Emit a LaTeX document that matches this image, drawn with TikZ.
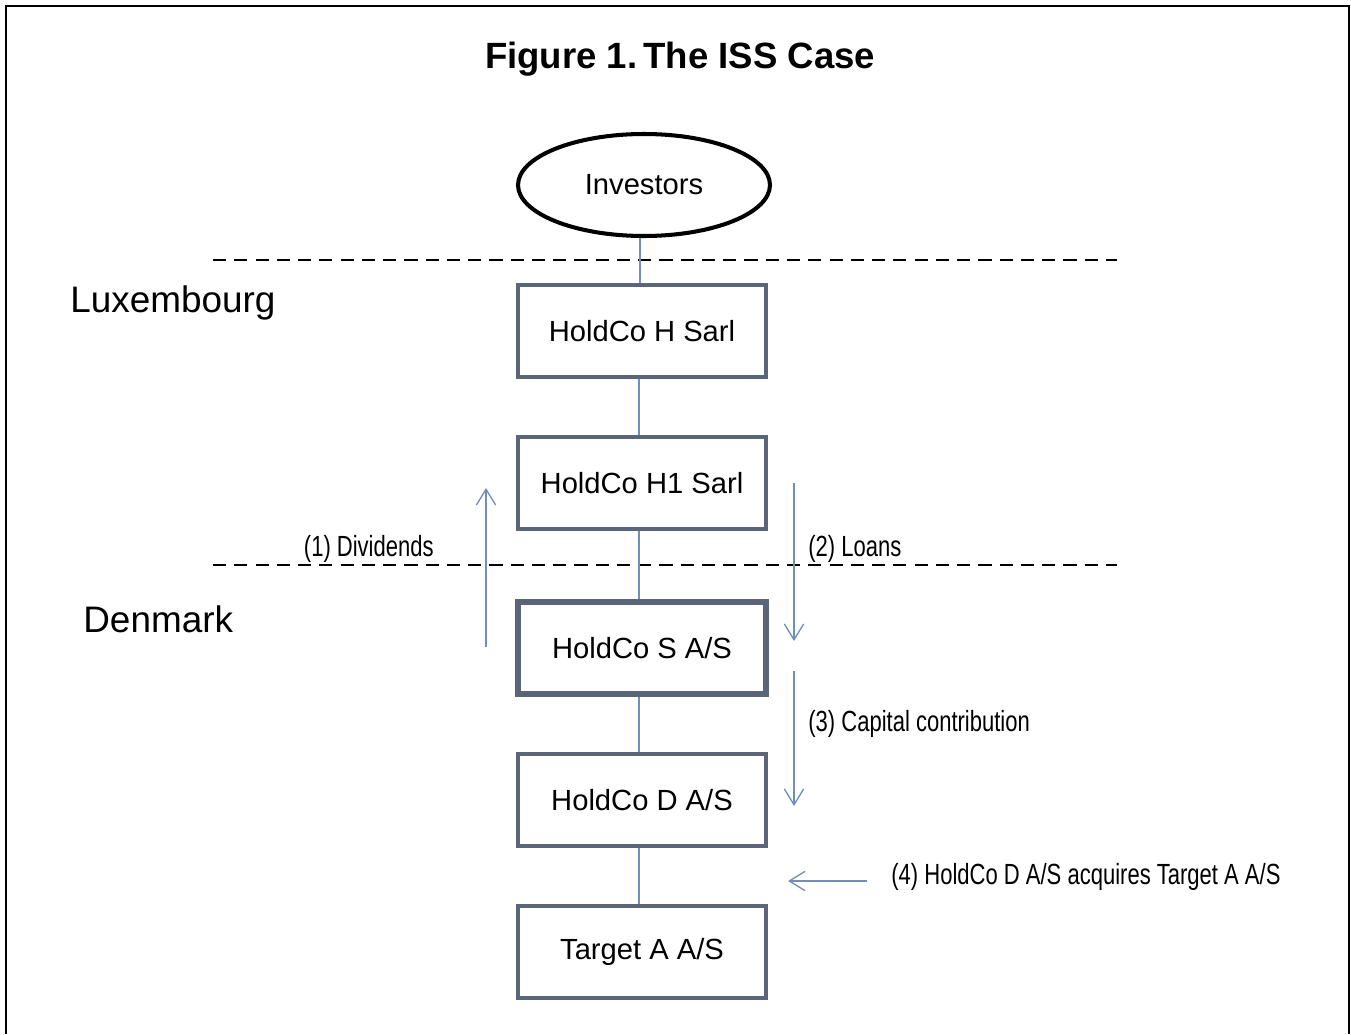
\documentclass[tikz,border=0pt]{standalone}
\usepackage{fontspec}
\setmainfont{Liberation Sans}
\newfontfamily\condfont[FakeStretch=0.755]{Liberation Sans}
\usetikzlibrary{shapes.geometric,arrows.meta}
\definecolor{boxline}{HTML}{5A6579}
\definecolor{flowblue}{HTML}{6F8FBA}
\tikzset{
  entity/.style={draw=boxline,line width=2.3pt,rectangle,inner sep=0pt,
    minimum width=4.96cm,minimum height=1.84cm,font=\fontsize{16.6}{20}\selectfont},
  owner/.style={draw=flowblue,line width=0.75pt},
  flow/.style={draw=flowblue,line width=0.75pt,-{Straight Barb[length=9pt,width=11pt]}},
  border/.style={dash pattern=on 7.5pt off 4.6pt,line width=0.8pt},
  steplabel/.style={inner sep=0pt,font=\condfont\fontsize{16.6}{20}\selectfont},
  country/.style={inner sep=0pt,anchor=west,font=\fontsize{21}{25}\selectfont}
}
\begin{document}
\begin{tikzpicture}[x=0.02cm,y=-0.02cm]
  \useasboundingbox (0,0) rectangle (1351,1034);
  \draw[line width=1pt] (6,1034) -- (6,6) -- (1349,6) -- (1349,1034);

  \node (title) at (680,59) {\fontsize{20.8}{25}\selectfont\bfseries Figure 1.\,The ISS Case};

  % countries
  \draw[border] (213,260) -- (1117,260);
  \draw[border] (213,565) -- (1117,565);
  \node[country] (lux) at (70,303) {Luxembourg};
  \node[country] (dk) at (83,619) {Denmark};

  % entities
  \node[draw,ellipse,line width=2.3pt,inner sep=0pt,minimum width=5.04cm,minimum height=2.04cm,
    font=\fontsize{16.6}{20}\selectfont] (inv) at (644,185) {\raisebox{-2pt}{Investors}};
  \node[entity] (h) at (642,331) {HoldCo H Sarl};
  \node[entity] (h1) at (642,483) {HoldCo H1 Sarl};
  \node[entity,line width=3.6pt] (s) at (642,648) {HoldCo S A/S};
  \node[entity] (d) at (642,800) {HoldCo D A/S};
  \node[entity] (t) at (642,952) {\raisebox{-3pt}{Target A A/S}};

  \draw[owner] (inv.south -| 640,0) -- (h.north -| 640,0);
  \draw[owner] (h.south -| 639,0) -- (h1.north -| 639,0);
  \draw[owner] (h1.south -| 639,0) -- (s.north -| 639,0);
  \draw[owner] (s.south -| 639,0) -- (d.north -| 639,0);
  \draw[owner] (d.south -| 639,0) -- (t.north -| 639,0);

  % steps
  \coordinate (divA) at (486,647);
  \coordinate (divB) at (486,488);
  \coordinate (loanA) at (794,483);
  \coordinate (loanB) at (794,641);
  \coordinate (capA) at (794,671);
  \coordinate (capB) at (794,806);
  \coordinate (acqA) at (867,881);
  \coordinate (acqB) at (788,881);
  \draw[flow] (divA) -- (divB);
  \draw[flow] (loanA) -- (loanB);
  \draw[flow] (capA) -- (capB);
  \draw[flow] (acqA) -- (acqB);

  \node[steplabel,anchor=east] (l1) at (434,549) {(1) Dividends};
  \node[steplabel,anchor=west] (l2) at (808,549) {(2) Loans};
  \node[steplabel,anchor=west] (l3) at (808,724) {(3) Capital contribution};
  \node[steplabel,anchor=west] (l4) at (891,877) {(4) HoldCo D A/S acquires Target A A/S};
\end{tikzpicture}
\end{document}
